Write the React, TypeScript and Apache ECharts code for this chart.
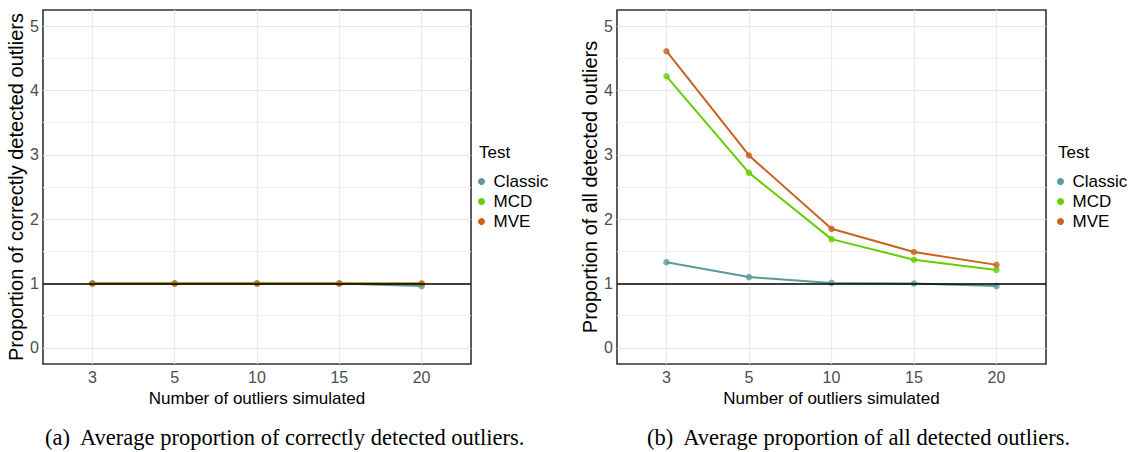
import React, { useEffect, useRef } from "react";
import * as echarts from "echarts";

const categories = ["3", "5", "10", "15", "20"];
const testNames = ["Classic", "MCD", "MVE"];
const testColors = ["#5a9a9b", "#66cd00", "#c8621f"];

// (a) correctly detected outliers
const correctClassic = [1.0, 1.0, 1.0, 1.0, 0.96];
const correctMCD = [1.0, 1.0, 1.0, 1.0, 1.0];
const correctMVE = [1.0, 1.0, 1.0, 1.0, 1.0];

// (b) all detected outliers
const allClassic = [1.33, 1.1, 1.01, 1.0, 0.96];
const allMCD = [4.22, 2.72, 1.69, 1.37, 1.21];
const allMVE = [4.61, 2.99, 1.85, 1.49, 1.29];

const yTickLabels = [0, 1, 2, 3, 4, 5];
const yGridValues = [0, 0.5, 1, 1.5, 2, 2.5, 3, 3.5, 4, 4.5, 5];
const xIndexes = [0, 1, 2, 3, 4];
const referenceLine = 1;

const xTitle = "Number of outliers simulated";
const yTitles = ["Proportion of correctly detected outliers", "Proportion of all detected outliers"];
const captions = [
  "(a)  Average proportion of correctly detected outliers.",
  "(b)  Average proportion of all detected outliers.",
];

const FONT = "'Liberation Sans', Arial, sans-serif";

export default function App() {
  const ref = useRef<HTMLDivElement>(null);

  useEffect(() => {
    document.body.style.margin = "0";
    if (!ref.current) return;
    const chart = echarts.init(ref.current, null, { renderer: "svg" });

    const panels = [
      [correctClassic, correctMCD, correctMVE],
      [allClassic, allMCD, allMVE],
    ];
    const grids = [
      { left: 43, top: 10, width: 428, height: 354 },
      { left: 617, top: 10, width: 429, height: 354 },
    ];

    const xAxes = grids.map((_, g) => ({
      type: "value",
      gridIndex: g,
      min: -0.6,
      max: 4.6,
      axisLine: { show: false },
      axisTick: { show: false, customValues: xIndexes },
      axisLabel: {
        customValues: xIndexes,
        formatter: (v: number) => categories[Math.round(v)],
        fontSize: 16,
        color: "#4d4d4d",
        margin: 5,
        fontFamily: FONT,
      },
      splitLine: { show: true, lineStyle: { color: "#ebebeb", width: 1.2 } },
      name: xTitle,
      nameLocation: "middle",
      nameGap: 25,
      nameTextStyle: { fontSize: 17, color: "#000", fontFamily: FONT },
    }));

    const yAxes = grids.map((_, g) => ({
      type: "value",
      gridIndex: g,
      min: -0.25,
      max: 5.25,
      axisLine: { show: false },
      axisTick: { show: false, customValues: yGridValues },
      axisLabel: {
        customValues: yTickLabels,
        fontSize: 16,
        color: "#4d4d4d",
        margin: 4,
        fontFamily: FONT,
      },
      splitLine: { show: true, lineStyle: { color: ["#e6e6e6", "#f1f1f1"], width: 1.2 } },
      name: yTitles[g],
      nameLocation: "middle",
      nameGap: 12,
      nameTextStyle: { fontSize: 20, color: "#000", fontFamily: FONT },
    }));

    const series: any[] = [];
    panels.forEach((vals, g) => {
      vals.forEach((arr, i) => {
        series.push({
          type: "line",
          name: testNames[i],
          xAxisIndex: g,
          yAxisIndex: g,
          data: arr.map((v, k) => [xIndexes[k], v]),
          showSymbol: false,
          symbol: "circle",
          lineStyle: { color: testColors[i], width: 2 },
          itemStyle: { color: testColors[i] },
          z: 2,
        });
      });
      series.push({
        type: "line",
        name: "ref" + g,
        xAxisIndex: g,
        yAxisIndex: g,
        data: [],
        z: 3,
        markLine: {
          silent: true,
          symbol: "none",
          label: { show: false },
          lineStyle: { color: "#000", width: 1.6, type: "solid" },
          data: [{ yAxis: referenceLine }],
        },
      });
      vals.forEach((arr, i) => {
        series.push({
          type: "scatter",
          name: testNames[i],
          xAxisIndex: g,
          yAxisIndex: g,
          data: arr.map((v, k) => [xIndexes[k], v]),
          symbol: "circle",
          symbolSize: 6.5,
          itemStyle: { color: testColors[i] },
          z: 4,
        });
      });
    });

    const legendLefts = [478, 1057];
    const titleLefts = [479, 1058];

    chart.setOption({
      animation: false,
      textStyle: { fontFamily: FONT },
      grid: grids.map((gr) => ({
        ...gr,
        show: true,
        borderColor: "#333",
        borderWidth: 1.6,
        backgroundColor: "transparent",
      })),
      xAxis: xAxes,
      yAxis: yAxes,
      title: titleLefts.map((l) => ({
        text: "Test",
        left: l,
        top: 144,
        padding: 0,
        textStyle: { fontSize: 17, fontWeight: "normal", color: "#000", fontFamily: FONT },
      })),
      legend: legendLefts.map((l) => ({
        data: testNames,
        orient: "vertical",
        left: l,
        top: 173,
        padding: 0,
        icon: "circle",
        itemWidth: 14,
        itemHeight: 7,
        itemGap: 3,
        selectedMode: false,
        textStyle: { fontSize: 17, lineHeight: 17, color: "#000", fontFamily: FONT },
      })),
      graphic: captions.map((c, i) => ({
        type: "text",
        x: i === 0 ? 45 : 647,
        y: 437,
        style: {
          text: c,
          font: "22.5px 'Liberation Serif', 'Times New Roman', serif",
          fill: "#000",
          align: "left",
          verticalAlign: "middle",
        },
      })),
      series,
    });

    return () => chart.dispose();
  }, []);

  return <div ref={ref} style={{ width: 1133, height: 452 }} />;
}
